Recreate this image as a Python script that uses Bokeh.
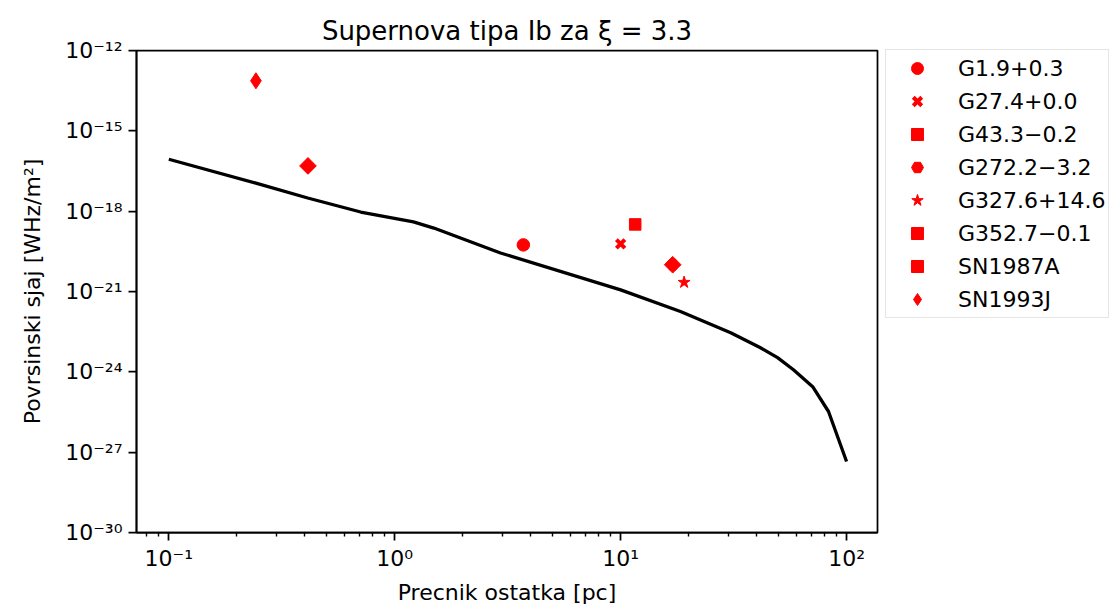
import math
from bokeh.plotting import figure
from bokeh.models import Range1d, FixedTicker, CustomJSTickFormatter, Legend, LegendItem
from bokeh.embed import file_html
from bokeh.resources import INLINE

# ---- data -------------------------------------------------------------
# model curve: remnant diameter [pc] vs surface brightness
curve_diameter = [0.1, 0.243, 0.412, 0.707, 1.21, 1.49, 2.94, 10.0, 18.4, 30.7,
                  41.6, 49.5, 58.2, 70.8, 83.2, 100.0]
curve_brightness = [8.7e-17, 1.12e-17, 3.1e-18, 9.3e-19, 4.0e-19, 2.34e-19, 2.75e-20,
                    1.15e-21, 1.78e-22, 2.9e-23, 7.9e-24, 3.4e-24, 1.2e-24, 2.8e-25,
                    3.3e-26, 4.5e-28]

# observed remnants
snr_names = ["G1.9+0.3", "G27.4+0.0", "G43.3\u22120.2", "G272.2\u22123.2",
             "G327.6+14.6", "G352.7\u22120.1", "SN1987A", "SN1993J"]
snr_diameter = [3.71, 10.0, 11.6, 17.0, 19.1, 17.0, 0.413, 0.243]
snr_brightness = [5.5e-20, 6.0e-20, 3.2e-19, 1.0e-20, 2.2e-21, 1.0e-20, 4.9e-17, 7.4e-14]

x_major = [0.1, 1, 10, 100]
y_major = [1e-30, 1e-27, 1e-24, 1e-21, 1e-18, 1e-15, 1e-12]

# ---- styles -------------------------------------------------------------
markers = ["circle", "x", "square", "hex", "star", "square", "square", "diamond"]
angles = [0, 0, 0, 0, 0, math.pi / 4, math.pi / 4, 0]
sizes = [12.5, 12, 11.5, 12, 12.5, 11.8, 11.8, 16]

FONT = "DejaVu Sans"
RED = "#ff0000"

p = figure(
    x_axis_type="log", y_axis_type="log",
    x_range=Range1d(10 ** -1.143, 10 ** 2.137),
    y_range=Range1d(1e-30, 1e-12),
    frame_width=741, frame_height=482,
    min_border_left=136, min_border_right=233,
    min_border_top=50, min_border_bottom=72,
    output_backend="svg", toolbar_location=None,
    title="Supernova tipa Ib za \u03be = 3.3",
)
p.title.align = "center"
p.title.text_font = FONT
p.title.text_font_size = "26px"
p.title.text_font_style = "normal"
p.title.text_color = "black"

p.grid.visible = False
p.outline_line_color = "black"
p.outline_line_width = 1.75
p.outline_line_alpha = 1.0

p.line(curve_diameter, curve_brightness, line_color="black", line_width=3.3)

items = []
for i, name in enumerate(snr_names):
    r = p.scatter([snr_diameter[i]], [snr_brightness[i]], marker=markers[i],
                  size=sizes[i], angle=angles[i], fill_color=RED,
                  line_color=RED, line_width=4 if markers[i] == "x" else 1)
    items.append(LegendItem(label=name, renderers=[r]))

legend = Legend(items=items, location=(8, 214), margin=0, padding=3,
                glyph_width=56, glyph_height=30, label_standoff=13, spacing=3,
                label_text_font=FONT, label_text_font_size="22px",
                label_text_baseline="middle", label_text_color="black",
                border_line_color="#cccccc", border_line_width=1.5,
                background_fill_color="white", background_fill_alpha=0.8)
p.add_layout(legend, "right")

sup_js = r"""
const sup = {"-":"\u207b","0":"\u2070","1":"\u00b9","2":"\u00b2","3":"\u00b3",
             "4":"\u2074","5":"\u2075","6":"\u2076","7":"\u2077","8":"\u2078","9":"\u2079"};
const e = Math.round(Math.log10(tick));
return "10" + String(e).split("").map(c => sup[c]).join("");
"""

minor_x = []
for dec in [0.01, 0.1, 1, 10]:
    for k in range(2, 10):
        minor_x.append(dec * k)

p.xaxis.ticker = FixedTicker(ticks=x_major, minor_ticks=minor_x)
p.yaxis.ticker = FixedTicker(ticks=y_major, minor_ticks=[])
for ax in (p.xaxis[0], p.yaxis[0]):
    ax.formatter = CustomJSTickFormatter(code=sup_js)
    ax.major_label_text_font = FONT
    ax.major_label_text_font_size = "22px"
    ax.major_label_text_color = "black"
    ax.axis_label_text_font = FONT
    ax.axis_label_text_font_size = "22px"
    ax.axis_label_text_font_style = "normal"
    ax.axis_label_text_color = "black"
    ax.axis_line_width = 1.75
    ax.major_tick_line_width = 1.75
    ax.minor_tick_line_width = 1.4
    ax.major_tick_out = 8
    ax.major_tick_in = 0
    ax.minor_tick_out = 4
    ax.minor_tick_in = 0

p.xaxis.axis_label = "Precnik ostatka [pc]"
p.yaxis.axis_label = "Povrsinski sjaj [WHz/m\u00b2]"
p.xaxis.axis_label_standoff = 6
p.yaxis.axis_label_standoff = 17
p.xaxis.major_label_standoff = 5
p.yaxis.major_label_standoff = 6

open("out.html", "w").write(file_html(p, INLINE))
